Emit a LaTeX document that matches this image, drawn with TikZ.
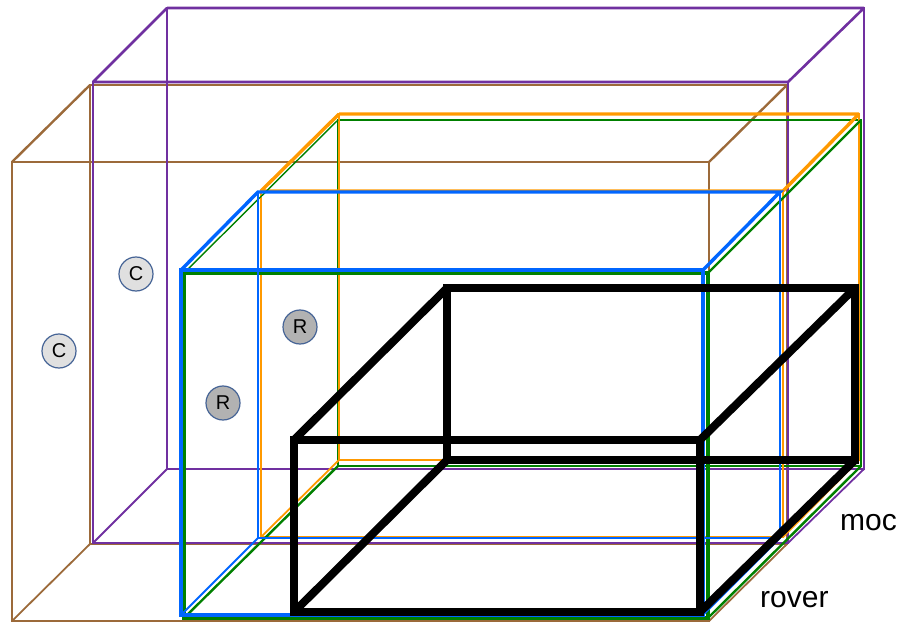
\documentclass[tikz,border=0pt]{standalone}
\usepackage{fontspec}
\setmainfont{Liberation Sans}
\definecolor{boxbrown}{RGB}{156,106,58}
\definecolor{boxpurple}{RGB}{112,48,160}
\definecolor{boxblue}{RGB}{0,102,255}
\definecolor{boxgreen}{RGB}{0,128,0}
\definecolor{boxorange}{RGB}{255,153,0}
\definecolor{circedge}{RGB}{70,100,150}
\begin{document}
\begin{tikzpicture}[x=1pt, y=-1pt,
    cnode/.style={circle, draw=circedge, fill={rgb,255:red,224;green,224;blue,224}, minimum size=34pt, inner sep=0pt, line width=1.2pt, font=\fontsize{20}{24}\selectfont},
    rnode/.style={cnode, fill={rgb,255:red,178;green,178;blue,178}},
    lbl/.style={anchor=base west, inner sep=0pt, font=\fontsize{30}{36}\selectfont}]

    \useasboundingbox (0,0) rectangle (903,623);

    % Brown box
    \draw[boxbrown, line width=1.8pt] (90,85) rectangle (787,544);
    \draw[boxbrown, line width=1.8pt] (12,621) -- (90,544) (709,621) -- (787,544);
    \draw[boxbrown, line width=2.4pt] (12,162) rectangle (709,621);
    \draw[boxbrown, line width=2.4pt] (12,162) -- (90,85) (709,162) -- (787,85);

    % Purple box
    \draw[boxpurple, line width=1.8pt] (93,82) rectangle (788,543);
    \draw[boxpurple, line width=1.5pt] (167,8) rectangle (864,469);
    \draw[boxpurple, line width=2.6pt] (93,82) -- (788,82) (167,8) -- (864,8)
        (93,82) -- (167,8) (788,82) -- (864,8);
    \draw[boxpurple, line width=1.8pt] (93,543) -- (167,469) (788,543) -- (864,469);

    % Green box, back face (under orange)
    \draw[boxgreen, line width=1.6pt] (338,120) rectangle (861,466);

    % Orange box
    \draw[boxorange, line width=1.8pt] (339,114) rectangle (859,460);
    \draw[boxorange, line width=2.2pt] (261,191) rectangle (783,537);
    \draw[boxorange, line width=3.4pt] (261,191) -- (783,191) (339,114) -- (859,114)
        (261,191) -- (339,114) (783,191) -- (859,114);
    \draw[boxorange, line width=1.8pt] (261,537) -- (339,460) (783,537) -- (859,460);

    % Green box
    \draw[boxgreen, line width=1.4pt] (184,273) -- (338,120);
    \draw[boxgreen, line width=2.4pt] (708,273) -- (861,120)
        (184,618) -- (338,466) (708,618) -- (861,466);
    \draw[boxgreen, line width=3.4pt] (184,273) rectangle (708,618);

    % Blue box
    \draw[boxblue, line width=1.8pt] (258,192) rectangle (780,538);
    \draw[boxblue, line width=1.8pt] (181,615) -- (258,538) (703,615) -- (780,538);
    \draw[boxblue, line width=3.4pt] (181,270) -- (258,192) -- (780,192) -- (703,270);
    \draw[boxblue, line width=3.4pt] (181,270) rectangle (703,615);

    % Black box
    \draw[black, line width=8pt] (447,288) rectangle (855,460);
    \draw[black, line width=8pt] (294,440) -- (447,288) (700,440) -- (855,288)
        (294,612) -- (447,460) (700,612) -- (855,460);
    \draw[black, line width=8pt] (294,440) rectangle (700,612);

    % Markers
    \node[cnode] (c1) at (59,351) {C};
    \node[cnode] (c2) at (136,274) {C};
    \node[rnode] (r1) at (300,327) {R};
    \node[rnode] (r2) at (223,403) {R};

    % Labels
    \node[lbl] (moc) at (840,530) {moc};
    \node[lbl] (rover) at (760,607) {rover};
\end{tikzpicture}
\end{document}
